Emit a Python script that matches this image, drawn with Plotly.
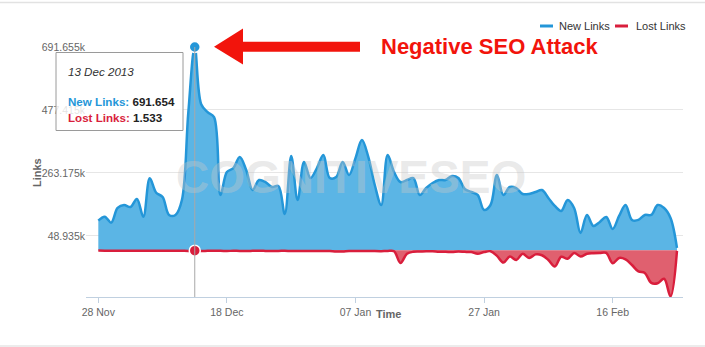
import pandas as pd
import plotly.graph_objects as go

# Daily link counts, 28 Nov 2013 - 26 Feb 2014
dates = pd.date_range("2013-11-28", "2014-02-26", freq="D")

new_links = [
    100800, 114400, 94000, 143900, 154100, 147300, 174500, 114400, 244800, 195900,
    181300, 120200, 120200, 171100, 469900, 691654, 497000, 469900, 452900, 188100,
    266200, 279700, 317100, 273000, 205100, 239000, 232200, 215200, 218600, 123600,
    320500, 171100, 300100, 245800, 279700, 323900, 245800, 249200, 300100, 256000,
    313700, 374800, 317100, 222000, 154100, 323900, 266200, 232200, 239000, 245800,
    188100, 211800, 228800, 239000, 239000, 252600, 245800, 208500, 198300, 188100,
    137200, 154100, 256000, 188100, 215200, 211800, 191500, 191500, 198300, 205100,
    177900, 150700, 133800, 171100, 143900, 59100, 120200, 82800, 96400, 113400,
    72700, 116800, 154100, 103200, 103200, 120200, 120200, 154100, 143900, 110000,
    8100,
]

lost_links = [
    -1200, -1400, -1300, -1500, -1400, -1300, -1600, -1400, -1500, -1300,
    -1600, -1400, -1500, -1700, -2100, -1533, -2400, -1900, -1800, -2000,
    -2200, -1900, -2100, -2300, -2000, -1800, -2200, -2500, -2100, -2000,
    -2300, -2600, -2200, -2400, -2100, -2500, -2800, -4500, -4000, -2500,
    -2200, -2600, -2300, -2900, -3100, -2400, -3500, -43000, -12000, -5000,
    -4200, -3300, -3600, -5200, -4800, -6300, -4100, -5400, -6100, -12000,
    -6200, -3300, -19000, -42000, -21000, -33000, -12000, -26000, -14000, -17000,
    -33000, -55000, -22000, -29000, -9000, -21000, -12000, -10000, -9000, -9000,
    -44000, -26000, -31000, -50000, -72000, -77000, -111000, -112000, -97000, -157000,
    -2000,
]

x_tick_vals = ["2013-11-28", "2013-12-18", "2014-01-07", "2014-01-27", "2014-02-16"]
x_tick_text = ["28 Nov", "18 Dec", "07 Jan", "27 Jan", "16 Feb"]
y_tick_vals = [48935, 263175, 477415, 691655]
y_tick_text = ["48.935k", "263.175k", "477.415k", "691.655k"]

BLUE_LINE, BLUE_FILL = "#2496d8", "#5bb5e5"
RED_LINE, RED_FILL = "#d91e3c", "#e0606f"
ARROW_RED = "#f2140c"
FONT = "Liberation Sans, Arial, sans-serif"

W, H = 705, 347
L, R, T, B = 86, 22, 47, 50
PW, PH = W - L - R, H - T - B


def px(x):
    return (x - L) / PW


def py(y):
    return (H - B - y) / PH


peak = max(range(len(new_links)), key=lambda i: new_links[i])
peak_date = dates[peak]

fig = go.Figure()
fig.add_trace(go.Scatter(
    x=dates, y=new_links, name="New Links", mode="lines",
    line=dict(color=BLUE_LINE, width=2.5, shape="spline", smoothing=1.0),
    fill="tozeroy", fillcolor=BLUE_FILL, showlegend=False,
))
fig.add_trace(go.Scatter(
    x=dates, y=lost_links, name="Lost Links", mode="lines",
    line=dict(color=RED_LINE, width=2.5, shape="spline", smoothing=1.0),
    fill="tozeroy", fillcolor=RED_FILL, showlegend=False,
))

shapes = [
    # crosshair at the highlighted day
    dict(type="line", xref="x", yref="paper", x0=peak_date, x1=peak_date,
         y0=0, y1=1, line=dict(color="#a8a8a8", width=1), layer="above"),
    # tooltip box
    dict(type="rect", xref="paper", yref="paper",
         x0=px(56), x1=px(183), y0=py(130.5), y1=py(52.5),
         fillcolor="rgba(255,255,255,0.82)", line=dict(color="#9a9a9a", width=1),
         layer="above"),
    # arrow pointing at the spike
    dict(type="path", xref="paper", yref="paper",
         path=(f"M {px(214)},{py(46.7)} L {px(243)},{py(28.5)} L {px(243)},{py(41.7)} "
               f"L {px(360)},{py(41.7)} L {px(360)},{py(51.7)} L {px(243)},{py(51.7)} "
               f"L {px(243)},{py(64.5)} Z"),
         fillcolor=ARROW_RED, line=dict(width=0), layer="above"),
    # legend symbols
    dict(type="line", xref="paper", yref="paper", x0=px(540), x1=px(553),
         y0=py(26), y1=py(26), line=dict(color=BLUE_LINE, width=3)),
    dict(type="line", xref="paper", yref="paper", x0=px(615), x1=px(628),
         y0=py(26), y1=py(26), line=dict(color=RED_LINE, width=3)),
    # container frame
    dict(type="line", xref="paper", yref="paper", x0=px(0), x1=px(705),
         y0=py(2.5), y1=py(2.5), line=dict(color="#e2e2e2", width=1.5)),
    dict(type="rect", xref="paper", yref="paper", x0=px(0), x1=px(705),
         y0=py(347), y1=py(345), fillcolor="#ececec", line=dict(width=0)),
]

fmt = lambda v: f"{abs(v):,}".replace(",", ".")

annotations = [
    dict(text="<b>COGNITIVESEO</b>", x=px(351), y=py(177), xref="paper", yref="paper",
         showarrow=False, font=dict(family=FONT, size=46, color="rgba(200,200,200,0.4)")),
    dict(text="<b>Negative SEO Attack</b>", x=px(379), y=py(46.5), xref="paper", yref="paper",
         xanchor="left", yanchor="middle", showarrow=False,
         font=dict(family=FONT, size=22, color=ARROW_RED)),
    dict(text="<i>" + peak_date.strftime("%d %b %Y") + "</i>", x=px(66), y=py(71),
         xref="paper", yref="paper", xanchor="left", yanchor="middle", showarrow=False,
         font=dict(family=FONT, size=11.6, color="#333333")),
    dict(text=(f"<b><span style='color:{BLUE_LINE}'>New Links:</span> "
               f"<span style='color:#222222'>{fmt(new_links[peak])}</span></b>"),
         x=px(66), y=py(101), xref="paper", yref="paper", xanchor="left",
         yanchor="middle", showarrow=False, font=dict(family=FONT, size=11.6)),
    dict(text=(f"<b><span style='color:{RED_LINE}'>Lost Links:</span> "
               f"<span style='color:#222222'>{fmt(lost_links[peak])}</span></b>"),
         x=px(66), y=py(117), xref="paper", yref="paper", xanchor="left",
         yanchor="middle", showarrow=False, font=dict(family=FONT, size=11.6)),
    dict(text="New Links", x=px(557), y=py(26), xref="paper", yref="paper",
         xanchor="left", yanchor="middle", showarrow=False,
         font=dict(family=FONT, size=11, color="#333333")),
    dict(text="Lost Links", x=px(634), y=py(26), xref="paper", yref="paper",
         xanchor="left", yanchor="middle", showarrow=False,
         font=dict(family=FONT, size=11, color="#333333")),
    dict(text="<b>Time</b>", x=px(388), y=py(322), xref="paper", yref="paper",
         showarrow=False, font=dict(family=FONT, size=11, color="#666666")),
    dict(text="<b>Links</b>", x=px(29), y=py(173), xref="paper", yref="paper",
         textangle=-90, showarrow=False, font=dict(family=FONT, size=11, color="#666666")),
]

# highlighted points
fig.add_trace(go.Scatter(
    x=[peak_date], y=[new_links[peak]], mode="markers", showlegend=False,
    marker=dict(size=11, color=BLUE_LINE, line=dict(color="white", width=1.5)),
    cliponaxis=False,
))
fig.add_trace(go.Scatter(
    x=[peak_date], y=[lost_links[peak]], mode="markers", showlegend=False,
    marker=dict(size=11, color=RED_LINE, line=dict(color="white", width=1.5)),
    cliponaxis=False,
))

fig.update_layout(
    width=W, height=H, margin=dict(l=L, r=R, t=T, b=B),
    paper_bgcolor="white", plot_bgcolor="white",
    font=dict(family=FONT, color="#666666"),
    showlegend=False, hovermode=False,
    shapes=shapes, annotations=annotations,
    xaxis=dict(
        type="date", range=["2013-11-26 02:00", "2014-02-26 22:30"],
        tickvals=x_tick_vals, ticktext=x_tick_text,
        tickfont=dict(size=10.5, color="#666666"),
        showgrid=False, zeroline=False,
        showline=True, linecolor="#c0d0e0", linewidth=1,
        ticks="outside", ticklen=5, tickcolor="#c0d0e0",
    ),
    yaxis=dict(
        range=[-159000, 691655],
        tickvals=y_tick_vals, ticktext=y_tick_text,
        tickfont=dict(size=10.5, color="#666666"),
        showgrid=True, gridcolor="#e6e6e6", gridwidth=1,
        zeroline=False, showline=False, ticks="",
    ),
)

fig.write_html("out.html")
